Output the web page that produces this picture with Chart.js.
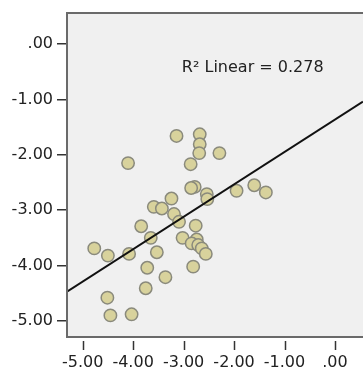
<!DOCTYPE html>
<html>
<head>
<meta charset="utf-8">
<script src="https://cdn.jsdelivr.net/npm/chart.js@4.4.1/dist/chart.umd.min.js"></script>
<style>
  html, body { margin: 0; padding: 0; background: #fff; overflow: hidden; }
  #wrap { width: 363px; height: 374px; position: relative; }
  canvas { display: block; }
</style>
</head>
<body>
<div id="wrap"><canvas id="scatter"></canvas></div>
<script>
// values
const xValues = [-3.14, -2.68, -2.68, -2.69, -2.29, -4.10, -2.86, -2.78, -2.85, -2.54,
                 -2.53, -1.95, -1.60, -1.37, -3.24, -3.59, -3.43, -3.19, -3.09, -3.84,
                 -2.76, -3.65, -3.02, -2.74, -2.84, -2.71, -2.64, -2.56, -4.77, -4.50,
                 -4.08, -3.53, -3.72, -2.81, -3.36, -3.75, -4.51, -4.45, -4.03];
const yValues = [-1.66, -1.63, -1.81, -1.97, -1.97, -2.15, -2.17, -2.58, -2.60, -2.71,
                 -2.80, -2.65, -2.55, -2.68, -2.79, -2.94, -2.97, -3.07, -3.21, -3.29,
                 -3.28, -3.50, -3.50, -3.53, -3.60, -3.63, -3.69, -3.79, -3.69, -3.82,
                 -3.79, -3.76, -4.04, -4.02, -4.21, -4.41, -4.58, -4.90, -4.88];

// fit line as drawn (slope / intercept)
const fitSlope = 0.585;
const fitIntercept = -1.365;
const rSquared = 0.278;

const xRange = [-5.31, 0.555];
const yRange = [-5.29, 0.56];
const tickStep = 1;

const fontFamily = '"DejaVu Sans", "Liberation Sans", sans-serif';

function spssFmt(v) {
  return v.toFixed(2).replace(/^(-?)0\./, '$1.');
}

const points = xValues.map((x, i) => ({ x: x, y: yValues[i] }));
const fitLine = xRange.map(x => ({ x: x, y: fitIntercept + fitSlope * x }));

// plot frame, x tick marks and R² label
const framePlugin = {
  id: 'frame',
  beforeDatasetsDraw(chart) {
    const { ctx, chartArea: a } = chart;
    ctx.save();
    ctx.fillStyle = '#f0f0f0';
    ctx.fillRect(a.left, a.top, a.right - a.left + 20, a.bottom - a.top);
    ctx.restore();
  },
  afterDraw(chart) {
    const { ctx, chartArea: a, scales } = chart;
    ctx.save();
    ctx.strokeStyle = '#6a6a6a';
    ctx.lineWidth = 2;
    ctx.strokeRect(a.left, a.top, a.right - a.left + 20, a.bottom - a.top);

    // x tick marks sit a little below the frame
    ctx.strokeStyle = '#333';
    ctx.lineWidth = 1.5;
    scales.x.ticks.forEach(t => {
      const px = Math.round(scales.x.getPixelForValue(t.value)) + 0.5;
      ctx.beginPath();
      ctx.moveTo(px, a.bottom + 4);
      ctx.lineTo(px, a.bottom + 13);
      ctx.stroke();
    });

    ctx.fillStyle = '#222';
    ctx.font = '16px ' + fontFamily;
    ctx.textAlign = 'center';
    ctx.textBaseline = 'middle';
    ctx.fillText('R\u00B2 Linear = ' + rSquared.toFixed(3),
      scales.x.getPixelForValue(-1.63), scales.y.getPixelForValue(-0.43));
    ctx.restore();
  }
};

function noPad(s) {
  s.paddingLeft = 0;
  s.paddingRight = 0;
  s.paddingTop = 0;
  s.paddingBottom = 0;
}

new Chart(document.getElementById('scatter'), {
  type: 'scatter',
  data: {
    datasets: [
      {
        type: 'line',
        data: fitLine,
        borderColor: '#111',
        borderWidth: 2,
        pointRadius: 0,
        order: 0
      },
      {
        data: points,
        backgroundColor: '#d8d29c',
        borderColor: '#8a8a7c',
        borderWidth: 1.5,
        pointRadius: 6.2,
        order: 1
      }
    ]
  },
  options: {
    responsive: true,
    maintainAspectRatio: false,
    animation: false,
    layout: { autoPadding: false, padding: { top: 13, right: 0, left: 0, bottom: 0 } },
    plugins: { legend: { display: false }, tooltip: { enabled: false } },
    scales: {
      x: {
        type: 'linear',
        min: xRange[0],
        max: xRange[1],
        afterFit: s => { s.height = 37; noPad(s); },
        border: { display: false },
        grid: { display: false, drawTicks: false },
        ticks: {
          stepSize: tickStep,
          includeBounds: false,
          autoSkip: false,
          maxRotation: 0,
          padding: 16,
          color: '#222',
          font: { family: fontFamily, size: 16 },
          callback: v => spssFmt(v)
        }
      },
      y: {
        type: 'linear',
        min: yRange[0],
        max: yRange[1],
        afterFit: s => { s.width = 67; noPad(s); },
        border: { display: false },
        grid: { display: true, drawOnChartArea: false, drawTicks: true, tickLength: 10, color: '#333', lineWidth: 1.5 },
        ticks: {
          stepSize: tickStep,
          includeBounds: false,
          padding: 4,
          color: '#222',
          font: { family: fontFamily, size: 16 },
          callback: v => spssFmt(v)
        }
      }
    }
  },
  plugins: [framePlugin]
});
</script>
</body>
</html>
